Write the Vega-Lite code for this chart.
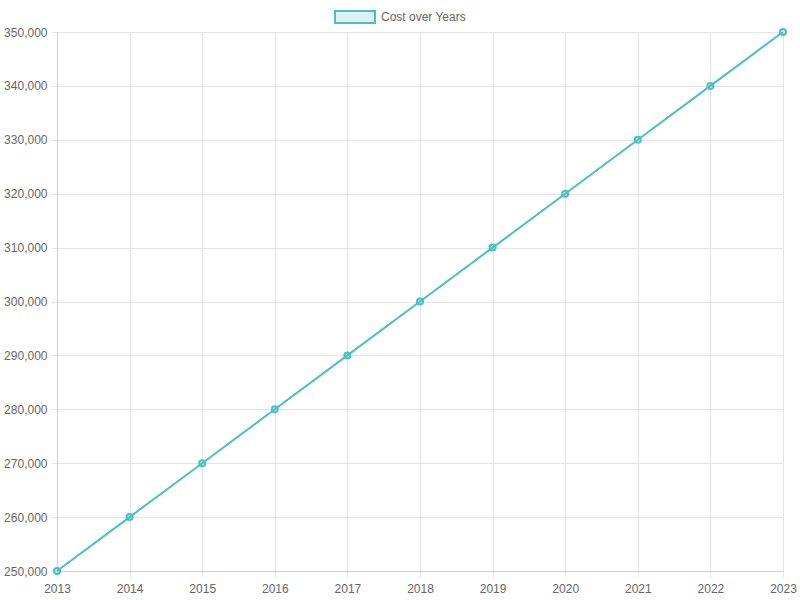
{
  "$schema": "https://vega.github.io/schema/vega-lite/v6.json",
  "description": "Line chart of cost over years, 2013 to 2023.",
  "autosize": "none",
  "width": 726,
  "height": 539,
  "padding": {"left": 57, "top": 32, "right": 17, "bottom": 29},
  "background": "white",
  "config": {
    "font": "Liberation Sans",
    "view": {"stroke": null},
    "axis": {
      "labelColor": "#666666",
      "labelFontSize": 12,
      "gridColor": "#e5e5e5",
      "tickColor": "#e5e5e5",
      "domainColor": "#d0d0d0",
      "tickSize": 6,
      "labelOverlap": false,
      "labelFlush": false,
      "title": null
    }
  },
  "data": {
    "values": [
      {"year": 2013, "cost": 250000, "series": "Cost over Years"},
      {"year": 2014, "cost": 260000, "series": "Cost over Years"},
      {"year": 2015, "cost": 270000, "series": "Cost over Years"},
      {"year": 2016, "cost": 280000, "series": "Cost over Years"},
      {"year": 2017, "cost": 290000, "series": "Cost over Years"},
      {"year": 2018, "cost": 300000, "series": "Cost over Years"},
      {"year": 2019, "cost": 310000, "series": "Cost over Years"},
      {"year": 2020, "cost": 320000, "series": "Cost over Years"},
      {"year": 2021, "cost": 330000, "series": "Cost over Years"},
      {"year": 2022, "cost": 340000, "series": "Cost over Years"},
      {"year": 2023, "cost": 350000, "series": "Cost over Years"}
    ]
  },
  "encoding": {
    "x": {
      "field": "year",
      "type": "quantitative",
      "scale": {"domain": [2013, 2023], "nice": false, "zero": false},
      "axis": {"format": "d", "values": [2013, 2014, 2015, 2016, 2017, 2018, 2019, 2020, 2021, 2022, 2023], "labelPadding": 6}
    },
    "y": {
      "field": "cost",
      "type": "quantitative",
      "scale": {"domain": [250000, 350000], "nice": false, "zero": false},
      "axis": {"format": ",.0f", "values": [250000, 260000, 270000, 280000, 290000, 300000, 310000, 320000, 330000, 340000, 350000], "labelPadding": 4}
    },
    "color": {
      "field": "series",
      "type": "nominal",
      "scale": {"range": ["#4bc0c0"]},
      "legend": {
        "orient": "none",
        "legendX": 277,
        "legendY": -36,
        "title": null,
        "symbolType": "M-1,-0.3H1V0.3H-1Z",
        "symbolSize": 1600,
        "symbolFillColor": "rgba(75,192,192,0.2)",
        "symbolStrokeColor": "#4bc0c0",
        "symbolStrokeWidth": 2,
        "symbolOpacity": 1,
        "labelFontSize": 12,
        "labelColor": "#666666",
        "labelOffset": 5
      }
    }
  },
  "layer": [
    {
      "mark": {"type": "line", "strokeWidth": 2}
    },
    {
      "mark": {"type": "point", "filled": false, "fill": "rgba(75,192,192,0.2)", "fillOpacity": 1, "strokeWidth": 2, "size": 36, "opacity": 1}
    }
  ]
}
